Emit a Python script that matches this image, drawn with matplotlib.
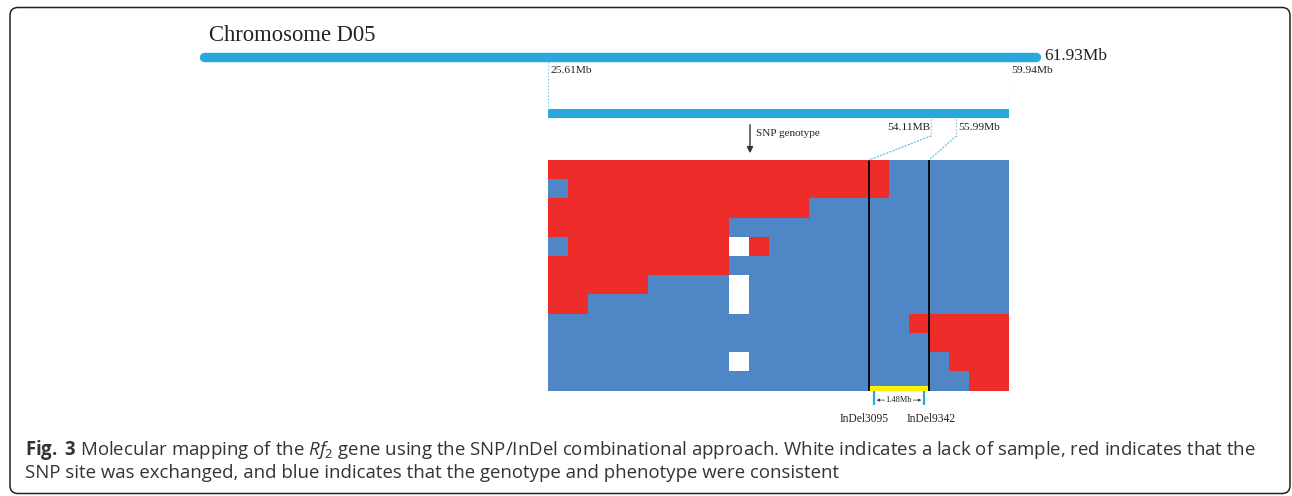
import matplotlib
matplotlib.use("Agg")
import matplotlib.pyplot as plt
from matplotlib.colors import ListedColormap
from matplotlib.patches import ConnectionPatch, FancyBboxPatch
import numpy as np

W, H = 1292, 496

# chromosome and fine-mapping interval (Mb)
CHROM_NAME = "Chromosome D05"
CHROM_LEN = 61.93
REGION = [25.61, 59.94]
INTERVAL = [54.11, 55.99]
INTERVAL_LABELS = ["54.11MB", "55.99Mb"]

# recombinant genotypes: R = exchanged SNP, B = consistent, W = no sample
GENOTYPES = [
    "RRRRRRRRRRRRRRRRRBBBBBB",
    "BRRRRRRRRRRRRRRRRBBBBBB",
    "RRRRRRRRRRRRRBBBBBBBBBB",
    "RRRRRRRRRBBBBBBBBBBBBBB",
    "BRRRRRRRRWRBBBBBBBBBBBB",
    "RRRRRRRRRBBBBBBBBBBBBBB",
    "RRRRRBBBBWBBBBBBBBBBBBB",
    "RRBBBBBBBWBBBBBBBBBBBBB",
    "BBBBBBBBBBBBBBBBBBRRRRR",
    "BBBBBBBBBBBBBBBBBBBRRRR",
    "BBBBBBBBBWBBBBBBBBBBRRR",
    "BBBBBBBBBBBBBBBBBBBBBRR",
]
BOUNDARY_COLS = [16, 19]
MARKERS = ["InDel3095", "InDel9342"]
MARKER_POS = [16.25, 18.75]
MARKER_DIST = "1.48Mb"

CAPTION = [
    r"$\mathbf{Fig.}$ $\mathbf{3}$ Molecular mapping of the $\mathit{Rf}_{\mathit{2}}$ gene using the SNP/InDel "
    r"combinational approach. White indicates a lack of sample, red indicates that the",
    "SNP site was exchanged, and blue indicates that the genotype and phenotype were consistent",
]

BAR = "#29a8e0"
DOT = "#6cc0ea"
RED = "#ee2d2a"
BLUE = "#4f86c6"
YELLOW = "#fff200"
SERIF = "Liberation Serif"
INK = "#222222"

plt.rcParams["font.family"] = ["Open Sans", "DejaVu Sans"]
plt.rcParams["mathtext.fontset"] = "custom"
plt.rcParams["mathtext.rm"] = "Open Sans"
plt.rcParams["mathtext.it"] = "Open Sans:italic"
plt.rcParams["mathtext.bf"] = "Open Sans:bold"

fig = plt.figure(figsize=(W / 100, H / 100), dpi=100)


def px_axes(x0, y0, x1, y1):
    ax = fig.add_axes([x0 / W, 1 - y1 / H, (x1 - x0) / W, (y1 - y0) / H])
    ax.set_ylim(y1, y0)
    ax.axis("off")
    return ax


bg = px_axes(0, 0, W, H)
bg.set_xlim(0, W)
bg.add_patch(FancyBboxPatch((10, 7.5), 1280, 486, boxstyle="round,pad=0,rounding_size=8",
                            fill=False, ec=INK, lw=1.1))

# whole chromosome
ax_chr = px_axes(204, 20, 1036, 90)
ax_chr.set_xlim(0, CHROM_LEN)
ax_chr.plot([0, CHROM_LEN], [56.5, 56.5], color=BAR, lw=6.8, solid_capstyle="round", clip_on=False)
ax_chr.annotate(f"{CHROM_LEN}Mb", (CHROM_LEN, 56.5), xytext=(8, 0), textcoords="offset pixels",
                va="center", ha="left", family=SERIF, fontsize=12.5, color=INK)
bg.text(209, 41, CHROM_NAME, family=SERIF, fontsize=16.3, va="baseline", color=INK)

# zoomed region, same x scale as the chromosome bar
fig.canvas.draw()
inv = bg.transData.inverted()
zx0 = inv.transform(ax_chr.transData.transform((REGION[0], 0)))[0]
zx1 = inv.transform(ax_chr.transData.transform((REGION[1], 0)))[0]

ax_zoom = px_axes(zx0, 56, zx1, 160)
ax_zoom.set_xlim(REGION)
ax_zoom.vlines(REGION, 62, 110, colors=DOT, lw=0.9, linestyles=":")
for x in REGION:
    ax_zoom.annotate(f"{x}Mb", (x, 71), xytext=(2, 0), textcoords="offset pixels",
                     va="center", ha="left", family=SERIF, fontsize=8.2, color=INK)
ax_zoom.barh(114, REGION[1] - REGION[0], left=REGION[0], height=9, color=BAR)
ax_zoom.vlines(INTERVAL, 119, 136, colors=DOT, lw=0.9, linestyles=":")
ax_zoom.annotate(INTERVAL_LABELS[0], (INTERVAL[0], 128), xytext=(-1, 0), textcoords="offset pixels",
                 va="center", ha="right", family=SERIF, fontsize=8.2, color=INK)
ax_zoom.annotate(INTERVAL_LABELS[1], (INTERVAL[1], 128), xytext=(2, 0), textcoords="offset pixels",
                 va="center", ha="left", family=SERIF, fontsize=8.2, color=INK)

bg.annotate("", xy=(750, 156), xytext=(750, 122),
            arrowprops=dict(arrowstyle="-|>", color="#333333", lw=1, mutation_scale=9))
bg.text(756, 134, "SNP genotype", family=SERIF, fontsize=8, va="center", color=INK)

# genotype grid
ax_grid = px_axes(zx0, 160, zx1, 390.5)
codes = np.array([["BRW".index(c) for c in row] for row in GENOTYPES])
n_rows, n_cols = codes.shape
ax_grid.set_xlim(0, n_cols)
ax_grid.set_ylim(n_rows, 0)
ax_grid.pcolormesh(codes, cmap=ListedColormap([BLUE, RED, "white"]), vmin=0, vmax=2)
ax_grid.vlines(BOUNDARY_COLS, 0, n_rows, colors="black", lw=1.3)
ax_grid.bar(BOUNDARY_COLS[0], 0.23, width=BOUNDARY_COLS[1] - BOUNDARY_COLS[0], bottom=n_rows - 0.23,
            align="edge", color=YELLOW)
ax_grid.vlines(MARKER_POS, n_rows, n_rows + 0.75, colors=BAR, lw=1.6, clip_on=False)
ax_grid.annotate("", xy=(MARKER_POS[0], n_rows + 0.5), xytext=(MARKER_POS[1], n_rows + 0.5),
                 arrowprops=dict(arrowstyle="<|-|>", color="#333333", lw=0.5, mutation_scale=4),
                 annotation_clip=False)
ax_grid.text(np.mean(MARKER_POS), n_rows + 0.5, MARKER_DIST, ha="center", va="center",
             family=SERIF, fontsize=6, color=INK,
             bbox=dict(fc="white", ec="none", pad=0.3), clip_on=False)
for x, name, dx in zip(MARKER_POS, MARKERS, (-10, 7)):
    ax_grid.annotate(name, (x, n_rows + 1.5), xytext=(dx, 0), textcoords="offset pixels",
                     ha="center", va="center", family=SERIF, fontsize=8.3, color=INK,
                     annotation_clip=False)

for (xa, col) in zip(INTERVAL, BOUNDARY_COLS):
    fig.add_artist(ConnectionPatch((xa, 136), (col, 0), coordsA=ax_zoom.transData,
                                   coordsB=ax_grid.transData, color=DOT, lw=0.9, ls=":"))

# caption
bg.text(25, 455, CAPTION[0], fontsize=13.4, va="baseline", color="#333333")
bg.text(25, 478, CAPTION[1], fontsize=13.4, va="baseline", color="#333333")

fig.savefig("out.png", dpi=100)
